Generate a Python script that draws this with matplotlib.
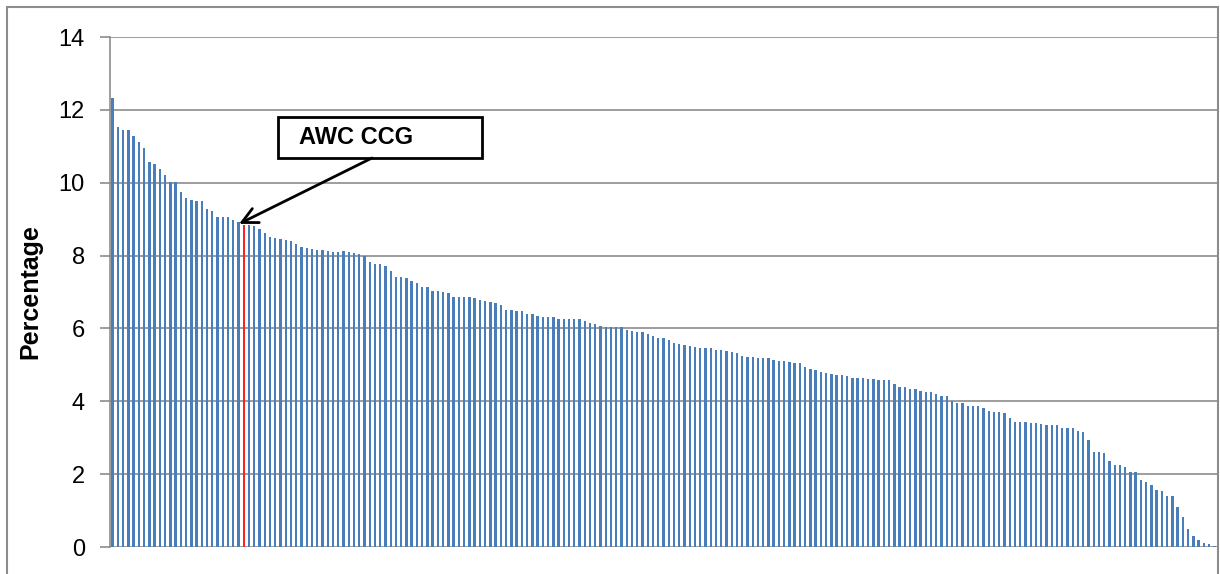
import numpy as np
import matplotlib
matplotlib.use('Agg')
from matplotlib import pyplot as plt
from matplotlib.patches import Rectangle

plt.rcParams['font.family'] = ['Liberation Sans', 'DejaVu Sans']

# percentage per CCG, sorted high to low
values = [12.33, 11.52, 11.46, 11.46, 11.28, 11.13, 10.94, 10.56, 10.51, 10.38,
          10.21, 10.01, 10.01, 9.75, 9.57, 9.52, 9.51, 9.51, 9.27, 9.22,
          9.07, 9.05, 9.05, 8.99, 8.91, 8.84, 8.84, 8.82, 8.72, 8.62,
          8.52, 8.48, 8.46, 8.44, 8.41, 8.31, 8.24, 8.22, 8.18, 8.15,
          8.15, 8.12, 8.11, 8.11, 8.12, 8.09, 8.08, 8.03, 8.00, 7.83,
          7.77, 7.77, 7.72, 7.58, 7.42, 7.42, 7.38, 7.31, 7.24, 7.15,
          7.15, 7.04, 7.04, 6.99, 6.96, 6.87, 6.86, 6.86, 6.85, 6.84,
          6.78, 6.75, 6.72, 6.69, 6.64, 6.51, 6.51, 6.48, 6.47, 6.40,
          6.39, 6.35, 6.32, 6.32, 6.31, 6.26, 6.25, 6.25, 6.26, 6.25,
          6.20, 6.16, 6.11, 6.07, 6.05, 6.04, 6.04, 6.04, 5.96, 5.93,
          5.91, 5.90, 5.84, 5.80, 5.75, 5.74, 5.68, 5.59, 5.58, 5.54,
          5.52, 5.48, 5.46, 5.46, 5.45, 5.41, 5.41, 5.38, 5.35, 5.32,
          5.25, 5.22, 5.21, 5.20, 5.18, 5.18, 5.13, 5.11, 5.11, 5.07,
          5.04, 5.04, 4.93, 4.89, 4.86, 4.81, 4.77, 4.76, 4.72, 4.72,
          4.69, 4.65, 4.65, 4.65, 4.61, 4.61, 4.58, 4.58, 4.58, 4.47,
          4.40, 4.40, 4.34, 4.34, 4.29, 4.26, 4.26, 4.19, 4.15, 4.15,
          4.01, 3.94, 3.94, 3.88, 3.87, 3.86, 3.81, 3.74, 3.71, 3.71,
          3.67, 3.55, 3.42, 3.42, 3.42, 3.40, 3.40, 3.37, 3.35, 3.34,
          3.34, 3.28, 3.26, 3.26, 3.19, 3.15, 2.94, 2.62, 2.62, 2.57,
          2.37, 2.25, 2.24, 2.19, 2.07, 2.06, 1.84, 1.78, 1.70, 1.56,
          1.55, 1.40, 1.39, 1.11, 0.83, 0.49, 0.31, 0.19, 0.12, 0.07,
          0.04]
highlight_idx = 25
highlight_label = 'AWC CCG'
yticks = [0, 2, 4, 6, 8, 10, 12, 14]

W, H = 1220, 574
fig = plt.figure(figsize=(W / 100, H / 100), dpi=100)
ax = fig.add_axes([110 / W, 1 - 547 / H, 1107 / W, 510 / H])

x = np.arange(len(values))
colors = ['#4A7EBB'] * len(values)
colors[highlight_idx] = '#FF2020'
ax.bar(x, values, width=0.45, color=colors, zorder=2)

ax.set_xlim(-0.5, len(values) - 0.5)
ax.set_ylim(0, 14)
ax.set_yticks(yticks)
ax.set_xticks([])
ax.yaxis.grid(True, color='#8C8C8C', lw=1.2, zorder=0)
for s in ['top', 'right', 'bottom']:
    ax.spines[s].set_visible(False)
ax.spines['left'].set_color('#8C8C8C')
ax.spines['left'].set_linewidth(1.2)
ax.tick_params(axis='y', length=7, width=1.2, color='#8C8C8C', labelsize=17, pad=11)
ax.set_ylabel('Percentage', fontsize=18, fontweight='bold', labelpad=12)

# callout box + arrow
fig.add_artist(Rectangle((278 / W, 1 - 158 / H), 204 / W, 41 / H, transform=fig.transFigure,
                         fill=False, edgecolor='black', lw=2))
fig.text(299 / W, 1 - 138 / H, highlight_label, fontsize=17, fontweight='bold', va='center')
ax.annotate('', xy=(highlight_idx - 0.9, values[highlight_idx] + 0.03),
            xytext=(372 / W, 1 - 158 / H), textcoords='figure fraction',
            arrowprops=dict(arrowstyle='->', color='black', lw=2, mutation_scale=28,
                            shrinkA=0, shrinkB=0))

# outer chart border
fig.add_artist(Rectangle((7 / W, -0.05), 1211 / W, 1 - 7 / H + 0.05, transform=fig.transFigure,
                         fill=False, edgecolor='#8C8C8C', lw=1.5))

fig.savefig('out.png', dpi=100)
